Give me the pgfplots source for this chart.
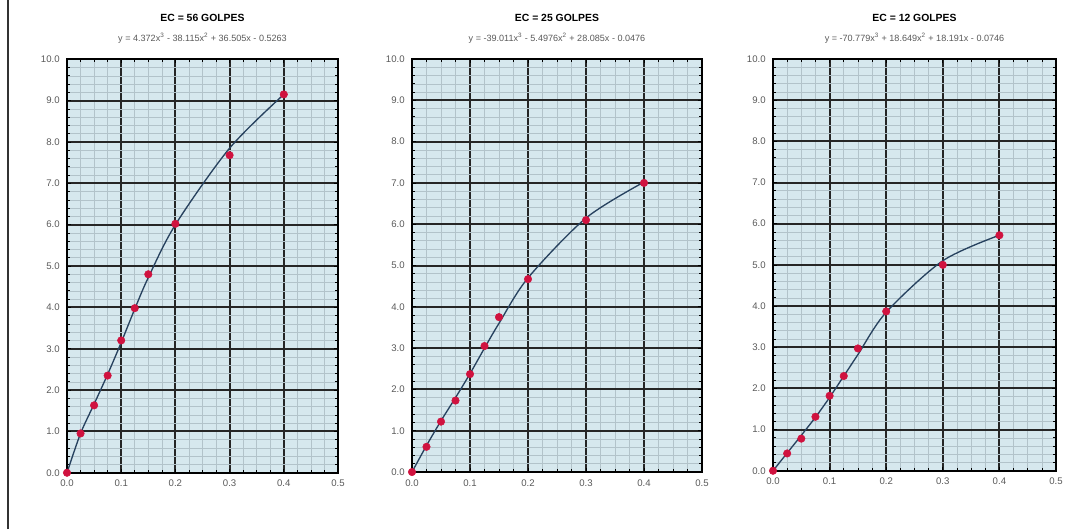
\documentclass[border=0pt]{standalone}
\usepackage{pgfplots}
\pgfplotsset{compat=1.18}
\usepackage{fontspec}
\setmainfont{Liberation Sans}
\definecolor{bgblue}{HTML}{D6E8EE}
\definecolor{gridminor}{HTML}{B2C3CA}
\definecolor{curve}{HTML}{27425F}
\definecolor{ptred}{HTML}{D0123F}
\definecolor{lbl}{HTML}{5A5A5A}

\pgfplotsset{panel/.style={
  scale only axis, anchor=south west,
  xmin=0, xmax=0.5, ymin=0, ymax=10,
  xtick={0,0.1,0.2,0.3,0.4,0.5},
  ytick={0,1,2,3,4,5,6,7,8,9,10},
  minor x tick num=3, minor y tick num=4,
  grid=both,
  major grid style={black!85, line width=1.5pt},
  minor grid style={gridminor, line width=0.4pt},
  axis background/.style={fill=bgblue},
  axis line style={black, line width=1.3pt},
  tick style={black, line width=0.5pt},
  major tick length=3pt, minor tick length=2pt,
  tick align=inside,
  xticklabel style={font=\fontsize{7.2}{8}\selectfont, text=lbl, yshift=-2pt},
  yticklabel style={font=\fontsize{7.2}{8}\selectfont, text=lbl, xshift=-2pt},
  xticklabel={\pgfmathprintnumber[fixed,fixed zerofill,precision=1,assume math mode=true]{\tick}},
  yticklabel={\pgfmathprintnumber[fixed,fixed zerofill,precision=1,assume math mode=true]{\tick}},
  clip=false,
}}
\pgfplotsset{curvestyle/.style={curve, line width=1pt, smooth, tension=0.5, no marks}}
\pgfplotsset{markstyle/.style={only marks, mark=*, mark size=2.8pt, mark options={fill=ptred, draw=ptred}}}

\begin{document}
\begin{tikzpicture}
\useasboundingbox (0,0) rectangle (804.75pt,396.75pt);
\fill[white] (0,0) rectangle (804.75pt,396.75pt);
\draw[black!80, line width=1.4pt] (6pt,0) -- (6pt,396.75pt);

% Panel 1
\begin{axis}[panel, at={(50.25pt,42.2pt)}, width=203.25pt, height=310.1pt]
\addplot[curvestyle] coordinates {(0,0) (0.025,0.95) (0.05,1.66) (0.075,2.38) (0.1,3.15) (0.125,3.96) (0.15,4.72) (0.2,6.0) (0.3,7.85) (0.4,9.15)};
\addplot[markstyle] coordinates {(0,0) (0.025,0.95) (0.05,1.63) (0.075,2.35) (0.1,3.2) (0.125,3.98) (0.15,4.8) (0.2,6.02) (0.3,7.68) (0.4,9.15)};
\node[font=\fontsize{7.8}{8}\selectfont\bfseries] at (rel axis cs:0.5,1.1) {EC = 56 GOLPES};
\node[font=\fontsize{6.8}{7}\selectfont, text=lbl] at (rel axis cs:0.5,1.05) {y = 4.372x\textsuperscript{3} - 38.115x\textsuperscript{2} + 36.505x - 0.5263};
\end{axis}

% Panel 2
\begin{axis}[panel, at={(309pt,42.75pt)}, width=217.5pt, height=309.75pt]
\addplot[curvestyle] coordinates {(0,0) (0.025,0.64) (0.05,1.24) (0.075,1.8) (0.1,2.38) (0.125,3.0) (0.15,3.6) (0.2,4.7) (0.3,6.15) (0.4,7.02)};
\addplot[markstyle] coordinates {(0,0) (0.025,0.61) (0.05,1.22) (0.075,1.73) (0.1,2.37) (0.125,3.05) (0.15,3.75) (0.2,4.67) (0.3,6.1) (0.4,7.0)};
\node[font=\fontsize{7.8}{8}\selectfont\bfseries] at (rel axis cs:0.5,1.1) {EC = 25 GOLPES};
\node[font=\fontsize{6.8}{7}\selectfont, text=lbl] at (rel axis cs:0.5,1.05) {y = -39.011x\textsuperscript{3} - 5.4976x\textsuperscript{2} + 28.085x - 0.0476};
\end{axis}

% Panel 3
\begin{axis}[panel, at={(579.75pt,43.7pt)}, width=212.25pt, height=308.8pt]
\addplot[curvestyle] coordinates {(0,0) (0.025,0.43) (0.05,0.86) (0.075,1.3) (0.1,1.78) (0.125,2.3) (0.15,2.82) (0.2,3.85) (0.3,5.1) (0.4,5.72)};
\addplot[markstyle] coordinates {(0,0) (0.025,0.42) (0.05,0.78) (0.075,1.31) (0.1,1.82) (0.125,2.3) (0.15,2.97) (0.2,3.87) (0.3,5.0) (0.4,5.72)};
\node[font=\fontsize{7.8}{8}\selectfont\bfseries] at (rel axis cs:0.5,1.1) {EC = 12 GOLPES};
\node[font=\fontsize{6.8}{7}\selectfont, text=lbl] at (rel axis cs:0.5,1.05) {y = -70.779x\textsuperscript{3} + 18.649x\textsuperscript{2} + 18.191x - 0.0746};
\end{axis}
\end{tikzpicture}
\end{document}
